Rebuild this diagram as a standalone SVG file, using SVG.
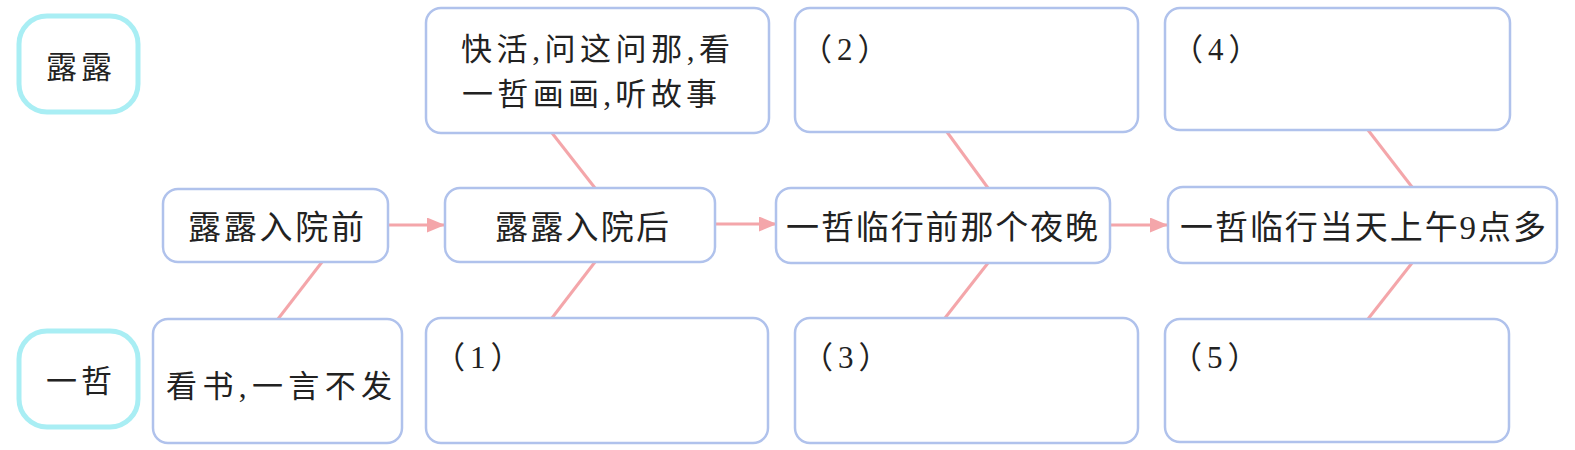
<svg xmlns="http://www.w3.org/2000/svg" width="1575" height="450" viewBox="0 0 1575 450">
<defs>
<style>
.box{fill:#ffffff;stroke:#b0c2ec;stroke-width:2.5}
.lbl{fill:#ffffff;stroke:#a9eef4;stroke-width:5}
.t{font-family:"Liberation Serif","Noto Sans CJK SC",serif;fill:#222222;dominant-baseline:central}
.c{stroke:#f4a6aa;stroke-width:3;fill:none}
.n{font-size:31px;letter-spacing:5px}
</style>
<marker id="ah" viewBox="0 0 18 15" refX="17" refY="7.5" markerWidth="18" markerHeight="15" markerUnits="userSpaceOnUse" orient="auto">
<path d="M0,0 L18,7.5 L0,15 z" fill="#f4a6aa"/>
</marker>
</defs>
<rect width="1575" height="450" fill="#ffffff"/>
<g id="connectors">
<line class="c" x1="389" y1="225" x2="444" y2="225" marker-end="url(#ah)"/>
<line class="c" x1="716" y1="224" x2="776" y2="224" marker-end="url(#ah)"/>
<line class="c" x1="1110" y1="225" x2="1167" y2="225" marker-end="url(#ah)"/>
<line class="c" x1="278" y1="319" x2="322" y2="262"/>
<line class="c" x1="552" y1="133" x2="595" y2="188"/>
<line class="c" x1="595" y1="262" x2="552" y2="318"/>
<line class="c" x1="947" y1="132" x2="988" y2="188"/>
<line class="c" x1="988" y1="263" x2="945" y2="318"/>
<line class="c" x1="1368" y1="130" x2="1412" y2="187"/>
<line class="c" x1="1412" y1="263" x2="1368" y2="319"/>
</g>
<g id="label-lulu">
<rect class="lbl" x="19" y="16" width="119" height="96" rx="28"/>
<text class="t" x="79" y="67" font-size="31" text-anchor="middle" textLength="66">露露</text>
</g>
<g id="label-yizhe">
<rect class="lbl" x="19" y="331" width="119" height="96" rx="28"/>
<text class="t" x="79" y="381" font-size="31" text-anchor="middle" textLength="66">一哲</text>
</g>
<g id="node-before">
<rect class="box" x="163" y="189" width="225" height="73" rx="15"/>
<text class="t" x="276" y="228" font-size="33" text-anchor="middle" textLength="176">露露入院前</text>
</g>
<g id="node-after">
<rect class="box" x="445" y="188" width="270" height="74" rx="15"/>
<text class="t" x="582" y="228" font-size="33" text-anchor="middle" textLength="174">露露入院后</text>
</g>
<g id="node-night">
<rect class="box" x="776" y="188" width="334" height="75" rx="15"/>
<text class="t" x="942" y="228" font-size="33" text-anchor="middle" textLength="312">一哲临行前那个夜晚</text>
</g>
<g id="node-morning">
<rect class="box" x="1168" y="187" width="389" height="76" rx="15"/>
<text class="t" x="1363" y="228" font-size="33" text-anchor="middle" textLength="366">一哲临行当天上午9点多</text>
</g>
<g id="node-lulu-1">
<rect class="box" x="426" y="8" width="343" height="125" rx="15"/>
<text class="t" x="461" y="49" font-size="31" textLength="269">快活,问这问那,看</text>
<text class="t" x="462" y="94" font-size="31" textLength="255">一哲画画,听故事</text>
</g>
<g id="node-lulu-2">
<rect class="box" x="795" y="8" width="343" height="124" rx="15"/>
<text class="t n" x="801" y="49">（2）</text>
</g>
<g id="node-lulu-4">
<rect class="box" x="1165" y="8" width="345" height="122" rx="15"/>
<text class="t n" x="1172" y="49">（4）</text>
</g>
<g id="node-yizhe-0">
<rect class="box" x="153" y="319" width="249" height="124" rx="15"/>
<text class="t" x="279" y="386" font-size="31" text-anchor="middle" textLength="226">看书,一言不发</text>
</g>
<g id="node-yizhe-1">
<rect class="box" x="426" y="318" width="342" height="125" rx="15"/>
<text class="t n" x="434" y="357">（1）</text>
</g>
<g id="node-yizhe-3">
<rect class="box" x="795" y="318" width="343" height="125" rx="15"/>
<text class="t n" x="802" y="357">（3）</text>
</g>
<g id="node-yizhe-5">
<rect class="box" x="1165" y="319" width="344" height="123" rx="15"/>
<text class="t n" x="1171" y="357">（5）</text>
</g>
</svg>
